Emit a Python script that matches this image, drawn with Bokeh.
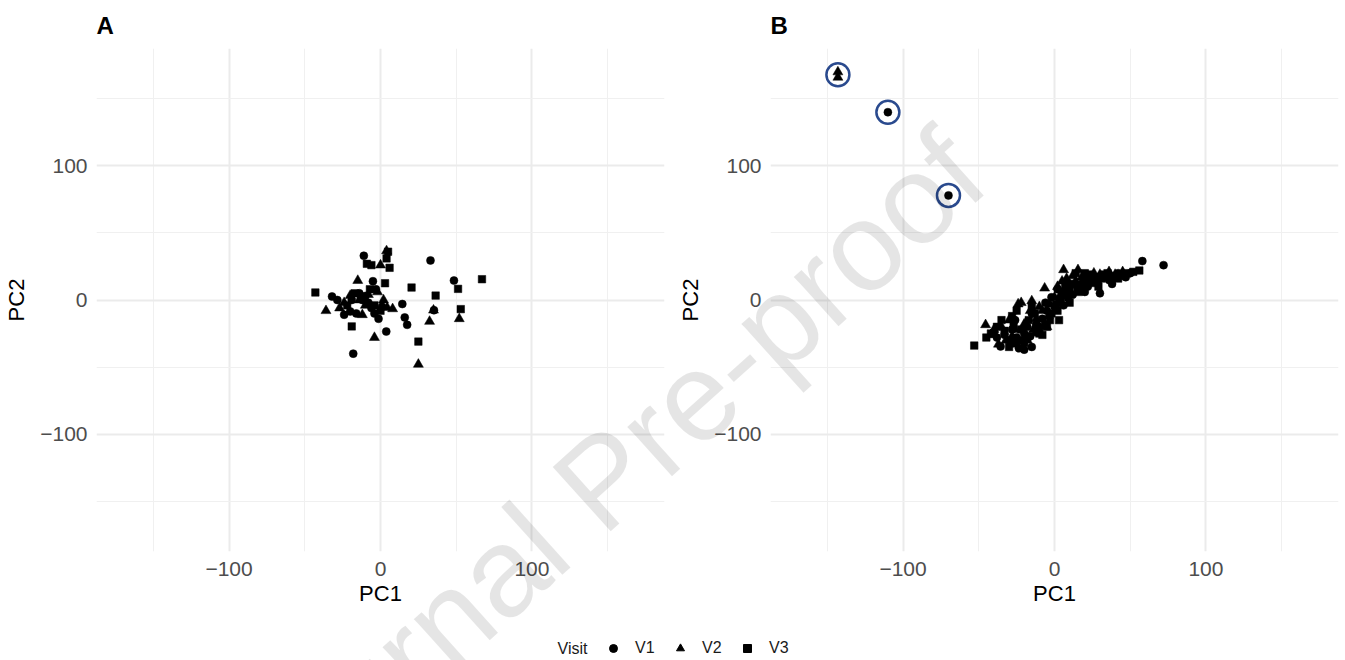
from bokeh.plotting import figure
from bokeh.layouts import column, row
from bokeh.models import FixedTicker, Label, Legend, LegendItem, Range1d, Div
from bokeh.embed import file_html
from bokeh.resources import INLINE

FONT = "Liberation Sans"

# ---------------- data ----------------
# Panel A
A_V1_x = [-11, 33, 48.5, -5, -32, -28.5, -14, 14.4, -24, -20, -16, -6, -4, -1.3, 16, 17.6, 3.8, -18, 35.3, -10, -3, -19, -8, 1, -12]
A_V1_y = [33, 29.5, 14.5, 14, 2.6, 0, 5, -3, -11, -8.5, -10, -6, -10, -14, -13, -18.5, -23.5, -40, -7.6, 3, 8, 0, -2, -5, 0]
A_V2_x = [4, 0, -15, -20, -36, -27, -12, 4.4, 8, 35, 32.4, 52, -4, 25, -8, -14, -2, -24, -10, 2]
A_V2_y = [36.6, 26, 14.5, 3.3, -8, -6, -11, -5.6, -6.6, -7.6, -16, -14, -28, -48, 4, 0, 6, -2, -4, 0]
A_V3_x = [5, 4, -9, -6, 6, 3, 20.5, -43, 36.4, 51.2, 67, 53, -19, 25, -13, -4, -17, -7, 0, -22]
A_V3_y = [36, 31, 27, 26, 24, 12.5, 9.3, 5.6, 3.3, 8.3, 15.5, -6.8, -19.7, -31, 2, -4, 5, 8, -8, -4]

# Panel B
B_V1_x = [72, 58, 50, 30, -23.5, -35.6, -30, -25, -20, -18, -28, -33, -12, -8, -15, -5, 0, 3, 5, 8,
          12, 15, 18, 22, 25, 28, 33, 36, 40, 44, 47, 20, 10, -2, -10, -22, -38, -26, -16, 2,
          38, -110, -70, -15, -20, -28, -12, 6, 26, 42, -40, -6]
B_V1_y = [26, 29, 20, 5, -36, -34.6, -30, -28, -25, -20, -22, -26, -18, -14, -10, -8, -5, -2, 3, 6,
          4, 9, 12, 10, 15, 13, 17, 15, 18, 19, 17, 6, 10, 2, -20, -30, -28, -15, -27, 8,
          12, 140, 78, -35, -37, -32, -24, -4, 17, 20, -24, -2]
B_V2_x = [-143, -143, 6, 15.5, -6.5, -15, -22, -24, -45.5, -40, -35, -30, -28, -20, -18, -12, -8, -3, 0, 2,
          5, 8, 10, 14, 18, 22, 26, 30, 34, 40, -25, -32, -14, -4, 12, 24, 45, -10, -37, -5,
          -42, -26, -16, 4, 20, 28, 36]
B_V2_y = [170, 166, 22.5, 22.5, 8.8, -0.7, -2, -3, -18.5, -22, -20, -15, -27, -18, -30, -14, -8, -3, 2, 10,
          14, 16, 8, 14, 17, 18, 20, 19, 18, 19, -33, -30, -22, -12, 18, 12, 21, -5, -33, -20,
          -26, -22, -8, 4, 14, 15, 21]
B_V3_x = [-53, 56, -42, -38, -33, -27, -22, -17, -13, -10, -6, -2, 1, 4, 6, 9, 12, 16, 19, 23,
          27, 31, 35, 38, 42, 48, 52, -30, -20, -8, 2, 7, 14, 20, 29, -25, -35, -15, 10, 17, 3, -5,
          -45, -28, -18, -3, 8, 24, 33, 44]
B_V3_y = [-34, 22, -25, -20, -23, -18, -22, -15, -10, -25, -18, -10, -3, 0, 5, 2, 12, 6, 15, 14,
          17, 16, 20, 17, 16, 20, 21, -35, -32, -26, -8, 10, 20, 20, 10, -8, -15, -5, -2, 11, -15, -20,
          -28, -12, -28, -15, 12, 19, 19, 18]

# Highlighted outliers in panel B
RING_x = [-143, -110, -70]
RING_y = [168, 140, 78]

MAJOR_TICKS = [-100, 0, 100]
MINOR_TICKS = [-150, -50, 50, 150]
TICK_LABELS = {-100: "\u2212100", 0: "0", 100: "100"}
VISITS = ["V1", "V2", "V3"]
MARKERS = ["circle", "triangle", "square"]
SIZES = [8, 10, 7.5]

LIM = 187.5
WATERMARK = "Journal Pre-proof"


def make_panel(tag, series, left, right, rings=None):
    p = figure(frame_width=568, frame_height=503,
               min_border_left=left, min_border_right=right,
               min_border_top=47, min_border_bottom=63,
               x_range=Range1d(-LIM, LIM), y_range=Range1d(-LIM, LIM),
               toolbar_location=None, output_backend="svg",
               background_fill_color="white", border_fill_color="white")
    p.outline_line_color = None
    p.title.text = tag
    p.title.text_font = FONT
    p.title.text_font_size = "24px"
    p.title.text_font_style = "bold"
    p.title.text_color = "black"
    p.title.align = "left"
    p.title.standoff = 19
    for ax in (p.xaxis[0], p.yaxis[0]):
        ax.ticker = FixedTicker(ticks=MAJOR_TICKS, minor_ticks=MINOR_TICKS)
        ax.major_label_overrides = TICK_LABELS
        ax.axis_line_color = None
        ax.major_tick_line_color = None
        ax.minor_tick_line_color = None
        ax.major_label_text_font = FONT
        ax.major_label_text_font_size = "21px"
        ax.major_label_text_color = "#4d4d4d"
        ax.axis_label_text_font = FONT
        ax.axis_label_text_font_size = "22px"
        ax.axis_label_text_font_style = "normal"
        ax.axis_label_text_color = "black"
    p.xaxis.axis_label = "PC1"
    p.yaxis.axis_label = "PC2"
    p.xaxis.major_label_standoff = 4
    p.yaxis.major_label_standoff = 3
    p.xaxis.axis_label_standoff = 2
    p.yaxis.axis_label_standoff = 8
    for g in (p.xgrid[0], p.ygrid[0]):
        g.grid_line_color = "#ebebeb"
        g.grid_line_width = 2
        g.minor_grid_line_color = "#f0f0f0"
        g.minor_grid_line_width = 1
    if rings is not None:
        p.scatter(rings[0], rings[1], marker="circle", size=23, fill_color=None,
                  line_color="#2a4a8e", line_width=2.5)
    for (xs, ys), m, s in zip(series, MARKERS, SIZES):
        p.scatter(xs, ys, marker=m, size=s, fill_color="black", line_color="black", line_width=0.5)
    return p


pA = make_panel("A", [(A_V1_x, A_V1_y), (A_V2_x, A_V2_y), (A_V3_x, A_V3_y)], 96, 8)
pB = make_panel("B", [(B_V1_x, B_V1_y), (B_V2_x, B_V2_y), (B_V3_x, B_V3_y)], 98, 7,
                rings=(RING_x, RING_y))

# legend strip
lg = figure(width=1345, height=47, x_range=Range1d(0, 1345), y_range=Range1d(0, 47),
            x_axis_type=None, y_axis_type=None, toolbar_location=None, output_backend="svg",
            min_border=0, min_border_left=0, min_border_right=0, min_border_top=0, min_border_bottom=0)
lg.outline_line_color = None
lg.xgrid.visible = False
lg.ygrid.visible = False
items = []
nan = float("nan")
for v, m in zip(VISITS, MARKERS):
    r = lg.scatter(x=[nan], y=[nan], marker=m, size=8, fill_color="black", line_color="black")
    items.append(LegendItem(label=v, renderers=[r]))
leg = Legend(items=items, orientation="horizontal", location=(603, 3),
             glyph_width=20, glyph_height=20, label_standoff=12, spacing=15,
             padding=0, margin=0, label_width=20, label_height=20,
             label_text_font=FONT, label_text_font_size="16px", label_text_color="#1a1a1a",
             border_line_color=None, background_fill_alpha=0)
lg.add_layout(leg)
lg.add_layout(Label(x=557, y=13, x_units="screen", y_units="screen", text="Visit",
                    text_font=FONT, text_font_size="16px", text_color="#1a1a1a",
                    text_baseline="middle", text_align="left"))

# watermark overlay (real text, rotated)
wm_cx, wm_cy, wm_angle, wm_size = 627, 508, 42, 126
wm = Div(text=(f'<div style="position:absolute;left:{wm_cx}px;top:{wm_cy}px;'
               f'transform-origin:0 0;transform:rotate(-{wm_angle}deg) translate(-50%,-{0.8465 * wm_size:.1f}px);'
               f"font-family:'Liberation Sans',Arial,sans-serif;font-size:{wm_size}px;line-height:1;"
               f'white-space:nowrap;color:rgba(0,0,0,0.10);">{WATERMARK}</div>'),
         width=1345, height=660,
         styles={"position": "absolute", "top": "0px", "left": "0px",
                 "z-index": "10", "pointer-events": "none", "overflow": "hidden"})

layout = column(row(pA, pB, spacing=0), lg, wm, spacing=0)
open("out.html", "w").write(file_html(layout, INLINE))
